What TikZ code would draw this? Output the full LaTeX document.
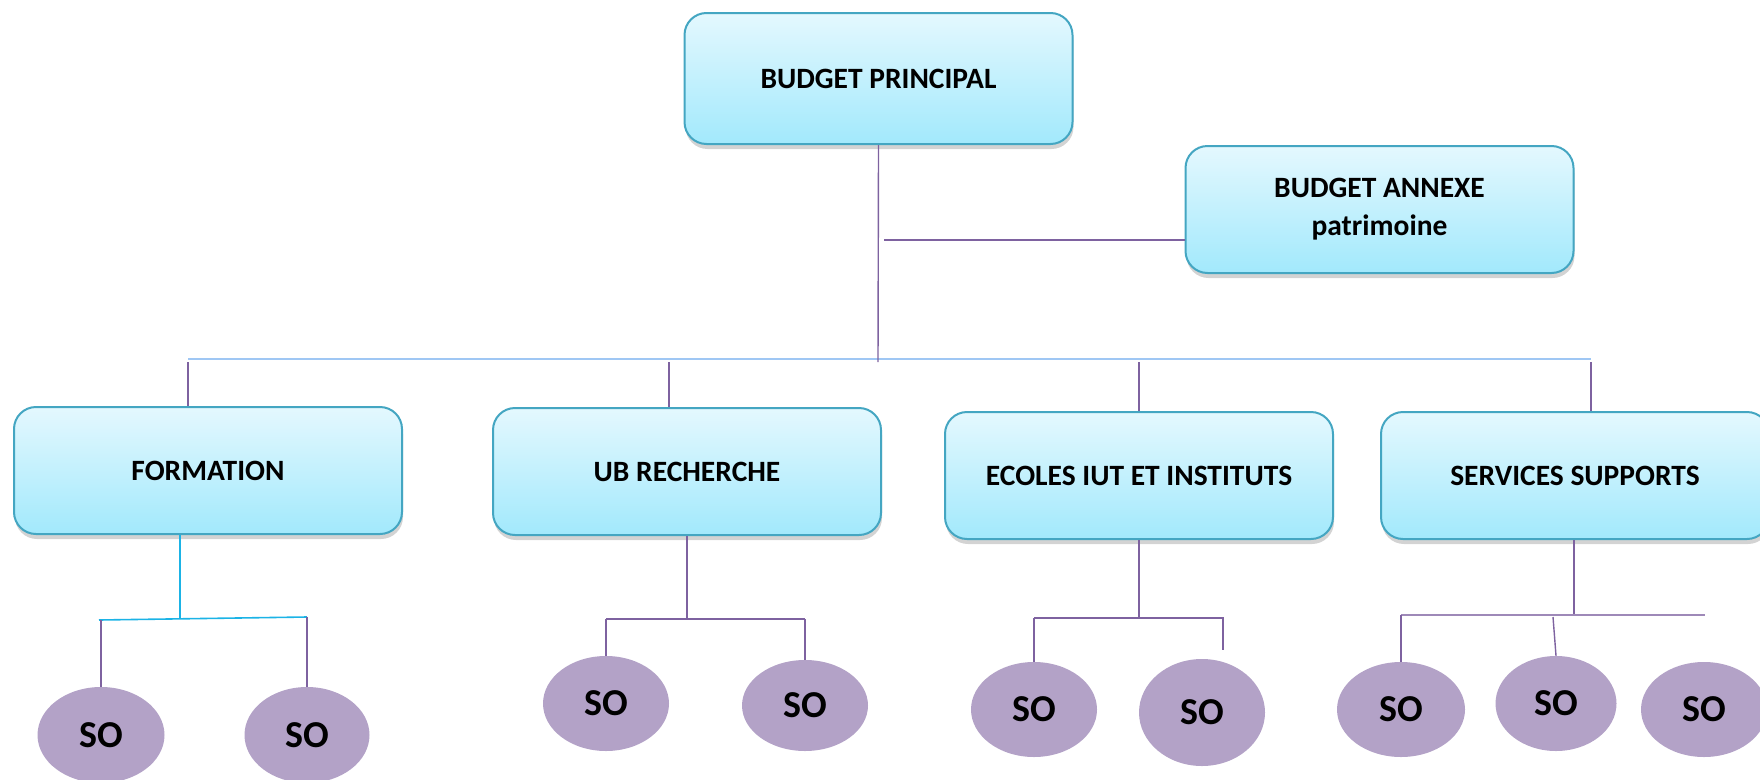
\documentclass[tikz,border=0pt]{standalone}
\usepackage{fontspec}
\setmainfont{Carlito}
\usetikzlibrary{shapes.geometric, shadows}

\definecolor{boxtop}{HTML}{E4F8FE}
\definecolor{boxbot}{HTML}{A2E9FC}
\definecolor{boxline}{HTML}{44A6C2}
\definecolor{sofill}{HTML}{B3A2C7}
\definecolor{linkpurple}{HTML}{7E62A0}
\definecolor{railblue}{HTML}{9FC7F4}
\definecolor{linkcyan}{HTML}{1BB3E6}

\begin{document}
\begin{tikzpicture}[x=1pt, y=-1pt,
    box/.style={draw=boxline, line width=2pt, rounded corners=22pt,
      top color=boxtop, bottom color=boxbot, minimum width=388, minimum height=127,
      align=center, font=\fontsize{29.5}{38}\selectfont\bfseries,
      drop shadow={shadow xshift=1pt, shadow yshift=-5pt, opacity=.35}},
    so/.style={ellipse, fill=sofill, inner sep=0pt, font=\fontsize{38}{44}\selectfont\bfseries},
    link/.style={draw=linkpurple, line width=1.4pt},
    rail/.style={draw=railblue, line width=2pt}]
      \useasboundingbox (0,0) rectangle (1760,779);
      \node [box, minimum height=131] (bp) at (878.5,78.5) {BUDGET PRINCIPAL};
      \node [box] (ba) at (1379.5,209.5) {BUDGET ANNEXE\\patrimoine};
      \foreach \b/\x/\y/\t in {fo/208/470.5/FORMATION, ub/687/471.5/UB RECHERCHE,
          ec/1139/475.5/ECOLES IUT ET INSTITUTS, ss/1575/475.5/SERVICES SUPPORTS}
        \node [box] (\b) at (\x,\y) {\t};
      \foreach \n/\x/\y/\w/\h in {f1/101/735/127/96, f2/307/735/125/96,
          u1/606/703.5/126/95, u2/805/705.5/126/91,
          e1/1034/709.5/126/95, e2/1202/712.5/126/107,
          s1/1401/709.5/128/95, s2/1556/703.5/121/95, s3/1704/709.5/126/95}
        \node [so, minimum width=\w, minimum height=\h] (\n) at (\x,\y) {SO};

      \coordinate (railL) at (188,359);
      \coordinate (railR) at (1591,359);
      \draw [rail] (railL) -- (railR);
      \coordinate (hub) at (878,362);
      \draw [link] (bp.south) -- (hub);
      \coordinate (an) at (884,240);
      \draw [link] (an) -- (an -| ba.west);
      \foreach \b/\x in {fo/188, ub/669, ec/1139, ss/1591} {
        \coordinate (t\b) at (\x,362);
        \draw [link] (t\b) -- (t\b |- \b.north);
      }

      \coordinate (fj) at (180,619);
      \coordinate (fl) at (99,620);
      \coordinate (fr) at (307,617);
      \draw [draw=linkcyan, line width=1.4pt] (fo.south -| fj) -- (fj);
      \draw [draw=linkcyan, line width=1.6pt] (fl) -- (fr);
      \draw [link] (f1.north |- fl) -- (f1.north);
      \draw [link] (fr) -- (f2.north);

      \coordinate (uj) at (687,619);
      \draw [link] (ub.south) -- (uj);
      \draw [link] (u1.north |- uj) -- (u2.north |- uj);
      \draw [link] (u1.north |- uj) -- (u1.north);
      \draw [link] (u2.north |- uj) -- (u2.north);

      \coordinate (ej) at (1139,618);
      \coordinate (er) at (1223,618);
      \coordinate (eend) at (1223,650);
      \draw [link] (ec.south) -- (ej);
      \draw [link] (e1.north |- ej) -- (er) -- (eend);
      \draw [link] (e1.north |- ej) -- (e1.north);

      \coordinate (sj) at (1574,615);
      \coordinate (sr) at (1705,615);
      \coordinate (sm) at (1553,617);
      \draw [link] (ss.south -| sj) -- (sj);
      \draw [draw=linkpurple!75, line width=2.4pt] (s1.north |- sj) -- (sr);
      \draw [link] (s1.north |- sj) -- (s1.north);
      \draw [link] (sm) -- (s2.north);
    \end{tikzpicture}
\end{document}
